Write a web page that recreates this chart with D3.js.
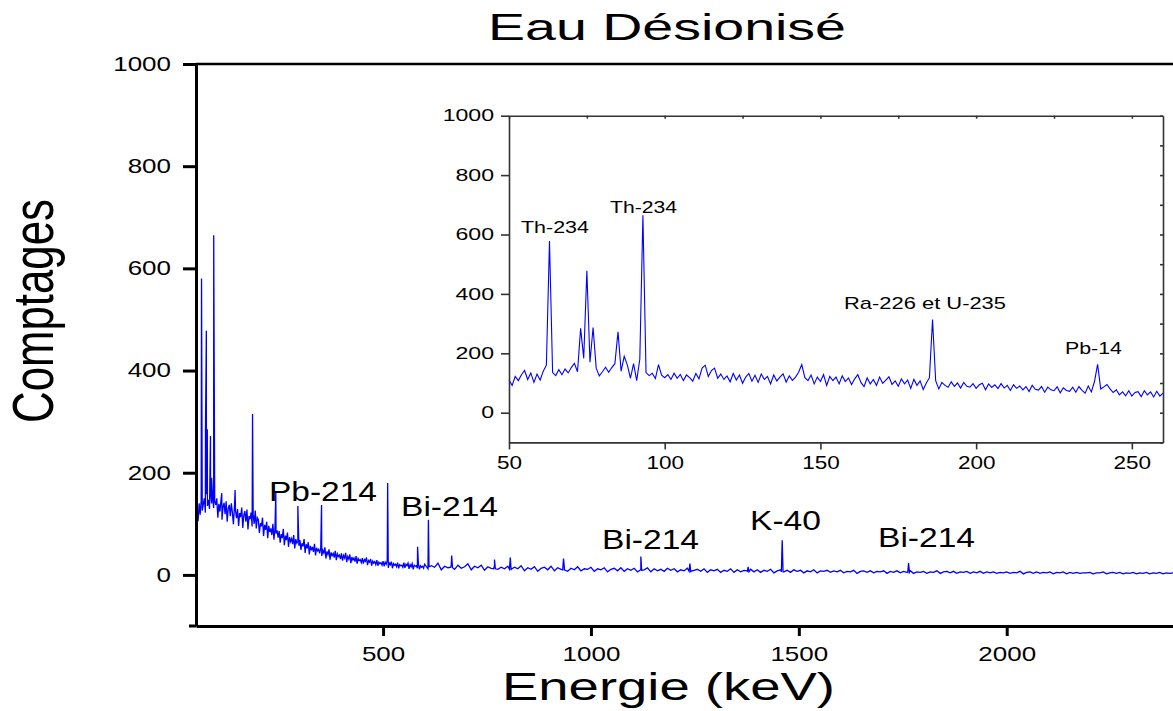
<!DOCTYPE html>
<html>
<head>
<meta charset="utf-8">
<script src="https://cdn.jsdelivr.net/npm/d3@7"></script>
<style>
body { margin: 0; background: #fff; }
text { font-family: "Liberation Sans", Arial, sans-serif; fill: #000; }
</style>
</head>
<body>
<div id="content"></div>
<script>
// main spectrum, background read every 2.5 keV from 50 to 597.5 keV
var lowStart = 50, lowStep = 2.5;
var lowCounts = [92, 128, 105, 140, 118, 146, 126, 138, 150, 122, 158, 135, 147, 129, 162, 140, 152, 131, 145, 137,
    150, 112, 139, 124, 146, 108, 133, 141, 119, 144, 104, 130, 137, 115, 140, 122, 99, 134, 126, 111,
    129, 96, 121, 113, 132, 92, 117, 125, 104, 128, 89, 115, 109, 122, 95, 118, 100, 126, 91, 112,
    108, 82, 101, 95, 112, 76, 98, 88, 104, 72, 96, 84, 91, 78, 100, 69, 92, 81, 87, 73,
    86, 63, 80, 72, 90, 58, 77, 68, 83, 55, 74, 65, 71, 60, 78, 52, 70, 62, 66, 57,
    68, 49, 62, 56, 70, 43, 60, 52, 64, 40, 57, 48, 55, 45, 61, 38, 53, 47, 50, 42,
    52, 37, 48, 43, 54, 32, 46, 40, 50, 30, 44, 38, 42, 34, 47, 29, 41, 36, 39, 31,
    42, 28, 38, 33, 43, 25, 36, 31, 40, 23, 35, 29, 33, 26, 37, 22, 32, 28, 30, 24,
    33, 22, 30, 27, 34, 19, 28, 25, 31, 18, 27, 23, 26, 20, 29, 18, 25, 22, 24, 19,
    27, 17, 25, 21, 28, 14, 23, 20, 26, 13, 22, 19, 21, 16, 24, 13, 20, 18, 19, 15,
    24, 14, 21, 18, 23, 12, 20, 16, 22, 11, 19, 17, 18, 13, 21, 11, 18, 15, 17, 13];

// then every 8 keV from 600 to 2400 keV
var highStart = 600, highStep = 8;
var highCounts = [21, 12, 18, 15, 23, 10, 17, 14, 20, 11, 19, 13, 16, 22, 10, 17, 14, 19, 9, 16, 13, 18, 11, 15, 12,
    17, 9, 15, 12, 18, 8, 14, 11, 16, 7, 13, 15, 10, 17, 8, 14, 11, 15, 7, 13, 10, 16, 8, 12, 11,
    15, 7, 12, 10, 14, 6, 11, 13, 8, 14, 7, 12, 9, 13, 6, 11, 10, 14, 6, 12, 8, 11, 7, 13, 9,
    12, 6, 10, 8, 13, 5, 9, 11, 7, 12, 5, 10, 8, 11, 5, 9, 7, 12, 5, 10, 6, 9, 8, 11, 6,
    10, 5, 9, 7, 11, 4, 8, 10, 6, 9, 5, 10, 7, 9, 4, 8, 6, 10, 4, 8, 7, 9, 5, 8, 6,
    9, 4, 7, 6, 9, 3, 7, 8, 5, 8, 4, 7, 6, 8, 3, 7, 5, 8, 4, 7, 5, 8, 3, 6, 5,
    7, 3, 6, 5, 8, 3, 6, 7, 4, 7, 3, 6, 5, 7, 3, 6, 4, 7, 3, 6, 4, 6, 3, 5, 4,
    6, 3, 5, 4, 7, 2, 5, 6, 3, 6, 3, 5, 4, 6, 2, 5, 4, 6, 2, 5, 3, 5, 3, 4, 4,
    5, 2, 4, 4, 6, 2, 4, 5, 3, 5, 2, 4, 3, 5, 2, 4, 3, 5, 2, 4, 3, 5, 2, 4, 3, 4];

// peak channels of the main spectrum
var peakEnergy = [63.3, 72.8, 74.9, 77.2, 84.8, 87.5, 92.6, 112, 144, 186, 242, 295, 352, 511, 583, 609, 610.5,
    663, 665, 667, 766, 768, 770, 804, 806, 808, 932, 934, 936, 1118, 1120, 1122,
    1236, 1238, 1240, 1376, 1378, 1380, 1458, 1460, 1462, 1762, 1764, 1766];
var peakCounts = [580, 285, 478, 285, 272, 190, 665, 160, 166, 315, 163, 135, 137, 180, 55, 108, 16,
    15, 38, 14, 12, 30, 12, 11, 34, 11, 10, 32, 10, 9, 36, 9,
    7, 22, 7, 6, 16, 6, 6, 68, 6, 5, 23, 5];

// inset spectrum, every 1 keV from 50 to 260 keV
var insetStart = 50, insetStep = 1;
var insetCounts = [110, 92, 122, 108, 128, 142, 112, 134, 102, 130,
    110, 140, 160, 578, 135, 125, 145, 128, 147, 134,
    152, 166, 138, 284, 183, 478, 170, 287, 150, 124,
    138, 153, 136, 152, 165, 272, 140, 190, 160, 116,
    165, 108, 180, 665, 135, 125, 133, 115, 162, 126,
    118, 128, 112, 133, 116, 129, 108, 127, 118, 106,
    132, 114, 150, 160, 122, 142, 150, 116, 130, 112,
    124, 104, 132, 110, 127, 99, 120, 132, 106, 126,
    102, 130, 112, 122, 97, 127, 107, 120, 131, 103,
    124, 109, 120, 136, 162, 118, 108, 127, 97, 120,
    105, 128, 92, 122, 108, 120, 97, 124, 105, 117,
    95, 114, 128, 102, 88, 117, 97, 112, 92, 120,
    99, 110, 121, 95, 107, 89, 114, 97, 110, 82,
    112, 92, 107, 78, 100, 118, 314, 108, 80, 102,
    92, 86, 104, 89, 100, 83, 102, 89, 86, 98,
    82, 94, 99, 77, 97, 85, 94, 81, 98, 83,
    92, 75, 94, 82, 90, 77, 88, 71, 92, 79,
    76, 88, 69, 86, 77, 74, 87, 67, 84, 75,
    72, 86, 69, 88, 75, 66, 90, 70, 105, 163,
    80, 87, 95, 80, 68, 77, 60, 70, 57, 74,
    56, 68, 71, 54, 74, 60, 70, 53, 72, 56, 66];

var mainMajorX = [500, 1000, 1500, 2000];
var mainMinorX = [250, 750, 1250, 1750, 2250];
var mainMajorY = [0, 200, 400, 600, 800, 1000];
var mainMinorY = [-100, 100, 300, 500, 700, 900];
var insetMajorX = [50, 100, 150, 200, 250];
var insetMinorX = [75, 125, 175, 225];
var insetMajorY = [0, 200, 400, 600, 800, 1000];
var insetMinorY = [-100, 100, 300, 500, 700, 900];

var mainLabels = ["Pb-214", "Bi-214", "Bi-214", "K-40", "Bi-214"];
var insetLabels = ["Th-234", "Th-234", "Ra-226 et U-235", "Pb-14"];

// label placement in pixels: left, baseline, width
var mainLabelPos = [[269, 501, 108], [401, 516, 97], [602, 549, 97], [750, 530, 71], [878, 547, 97]];
var insetLabelPos = [[521, 233, 68], [610, 213, 67], [844, 309, 162], [1065, 354, 57]];

var svg = d3.select('#content')
    .append('svg')
    .attr('width', 1173).attr('height', 711);

var x = d3.scaleLinear().domain([50, 2400]).range([196, 1173]);
var y = d3.scaleLinear().domain([-100, 1000]).range([626, 64]);
var xi = d3.scaleLinear().domain([50, 260]).range([509, 1163]);
var yi = d3.scaleLinear().domain([-100, 1000]).range([442.4, 115.7]);
var fmt = d3.format("d");

// build main series
var mainData = [];
lowCounts.forEach(function(c, i) { mainData.push([lowStart + i * lowStep, c]); });
highCounts.forEach(function(c, i) { mainData.push([highStart + i * highStep, c]); });
peakEnergy.forEach(function(e, i) { mainData.push([e, peakCounts[i]]); });
mainData.sort(function(a, b) { return a[0] - b[0]; });

var insetData = insetCounts.map(function(c, i) { return [insetStart + i * insetStep, c]; });

svg.append("clipPath").attr("id", "clipMain")
    .append("rect").attr("x", 196).attr("y", 64).attr("width", 977).attr("height", 562);

svg.append("path")
    .datum(mainData)
    .attr("clip-path", "url(#clipMain)")
    .attr("fill", "none")
    .attr("stroke", "#0000ff")
    .attr("stroke-width", 1.3)
    .attr("d", d3.line().x(function(d) { return x(d[0]); }).y(function(d) { return y(d[1]); }));

function styleAxis(g, w, col) {
    g.selectAll("path, line").attr("stroke", col).attr("stroke-width", w);
}

// main axes
var gy = svg.append("g").attr("transform", "translate(196,0)");
gy.call(d3.axisLeft(y).tickValues(mainMinorY).tickSize(7).tickSizeOuter(0).tickFormat(""));
gy.call(d3.axisLeft(y).tickValues(mainMajorY).tickSize(13).tickSizeOuter(0).tickFormat(fmt));
styleAxis(gy, 3, "#000");
gy.selectAll("text")
    .attr("font-size", 20).attr("font-family", "Liberation Sans, Arial, sans-serif")
    .attr("x", -25 / 1.3).attr("transform", "scale(1.3,1)");

var gx = svg.append("g").attr("transform", "translate(0,626)");
gx.call(d3.axisBottom(x).tickValues(mainMinorX).tickSize(5).tickSizeOuter(0).tickFormat(""));
gx.call(d3.axisBottom(x).tickValues(mainMajorX).tickSize(10).tickSizeOuter(0).tickFormat(fmt));
styleAxis(gx, 3, "#000");
gx.selectAll("text")
    .attr("font-size", 20).attr("font-family", "Liberation Sans, Arial, sans-serif")
    .attr("y", 21).attr("transform", "scale(1.3,1)");
gx.append("line").attr("x1", 189).attr("x2", 196).attr("stroke", "#000").attr("stroke-width", 3);

// top frame
svg.append("line").attr("x1", 196).attr("x2", 1173).attr("y1", 64).attr("y2", 64)
    .attr("stroke", "#000").attr("stroke-width", 2.5);

// main annotations
svg.selectAll(".mlab").data(mainLabels).enter().append("text")
    .attr("class", "mlab")
    .attr("x", function(d, i) { return mainLabelPos[i][0]; })
    .attr("y", function(d, i) { return mainLabelPos[i][1]; })
    .attr("textLength", function(d, i) { return mainLabelPos[i][2]; })
    .attr("lengthAdjust", "spacingAndGlyphs")
    .attr("font-size", 27)
    .text(function(d) { return d; });

// inset
var inset = svg.append("g");
inset.append("rect").attr("x", 509).attr("y", 115.7).attr("width", 654).attr("height", 326.7)
    .attr("fill", "#fff");

inset.append("path")
    .datum(insetData)
    .attr("fill", "none")
    .attr("stroke", "#0000ff")
    .attr("stroke-width", 1.1)
    .attr("d", d3.line().x(function(d) { return xi(d[0]); }).y(function(d) { return yi(d[1]); }));

var giy = inset.append("g").attr("transform", "translate(509,0)");
giy.call(d3.axisLeft(yi).tickValues(insetMinorY).tickSize(4).tickSizeOuter(0).tickFormat(""));
giy.call(d3.axisLeft(yi).tickValues(insetMajorY).tickSize(8).tickSizeOuter(0).tickFormat(fmt));
styleAxis(giy, 1.6, "#333");
giy.selectAll("text")
    .attr("font-size", 16.5).attr("font-family", "Liberation Sans, Arial, sans-serif")
    .attr("x", -15 / 1.4).attr("transform", "scale(1.4,1)");

var gix = inset.append("g").attr("transform", "translate(0,442.4)");
gix.call(d3.axisBottom(xi).tickValues(insetMinorX).tickSize(4).tickSizeOuter(0).tickFormat(""));
gix.call(d3.axisBottom(xi).tickValues(insetMajorX).tickSize(7).tickSizeOuter(0).tickFormat(fmt));
styleAxis(gix, 1.6, "#333");
gix.selectAll("text")
    .attr("font-size", 18).attr("font-family", "Liberation Sans, Arial, sans-serif")
    .attr("y", 13.6).attr("transform", "scale(1.25,1)");

// inset top and right frame with inward ticks
var git = inset.append("g").attr("transform", "translate(0,115.7)");
git.call(d3.axisBottom(xi).tickValues(insetMajorX.concat(insetMinorX)).tickSize(3).tickSizeOuter(0).tickFormat(""));
styleAxis(git, 1.6, "#333");
var gir = inset.append("g").attr("transform", "translate(1163,0)");
gir.call(d3.axisLeft(yi).tickValues(insetMajorY.concat(insetMinorY)).tickSize(3).tickSizeOuter(0).tickFormat(""));
styleAxis(gir, 1.6, "#333");

inset.selectAll(".ilab").data(insetLabels).enter().append("text")
    .attr("class", "ilab")
    .attr("x", function(d, i) { return insetLabelPos[i][0]; })
    .attr("y", function(d, i) { return insetLabelPos[i][1]; })
    .attr("textLength", function(d, i) { return insetLabelPos[i][2]; })
    .attr("lengthAdjust", "spacingAndGlyphs")
    .attr("font-size", 17)
    .text(function(d) { return d; });

// titles
svg.append("text")
    .attr("x", 488).attr("y", 39.5)
    .attr("textLength", 358).attr("lengthAdjust", "spacingAndGlyphs")
    .attr("font-size", 36)
    .text("Eau Désionisé");

svg.append("text")
    .attr("x", 502).attr("y", 700)
    .attr("textLength", 333).attr("lengthAdjust", "spacingAndGlyphs")
    .attr("font-size", 39.5)
    .text("Energie (keV)");

svg.append("text")
    .attr("transform", "translate(53,311) scale(1.3,1) rotate(-90)")
    .attr("text-anchor", "middle")
    .attr("textLength", 224).attr("lengthAdjust", "spacingAndGlyphs")
    .attr("font-size", 44)
    .text("Comptages");
</script>
</body>
</html>
